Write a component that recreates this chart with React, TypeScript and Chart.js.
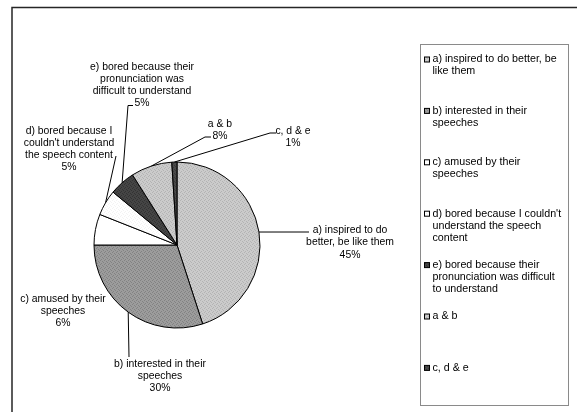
import React, { useEffect, useRef } from "react";
import { Chart, registerables } from "chart.js";

Chart.register(...registerables);

// Survey answers and their share of respondents (%)
const categories = [
  "a) inspired to do better, be like them",
  "b) interested in their speeches",
  "c) amused by their speeches",
  "d) bored because I couldn't understand the speech content",
  "e) bored because their pronunciation was difficult to understand",
  "a & b",
  "c, d & e",
];
const shares = [45, 30, 6, 5, 5, 8, 1];

// Legend entries as they wrap inside the legend box
const legendLines = [
  ["a) inspired to do better, be", "like them"],
  ["b) interested in their", "speeches"],
  ["c) amused by their", "speeches"],
  ["d) bored because I couldn't", "understand the speech", "content"],
  ["e) bored because their", "pronunciation was difficult", "to understand"],
  ["a & b"],
  ["c, d & e"],
];

// Fill tones per slice: [base, grain]
const sliceTones: [string, string][] = [
  ["#cbcbcb", "#b3b3b3"],
  ["#9c9c9c", "#828282"],
  ["#ffffff", "#ffffff"],
  ["#ffffff", "#f3f3f3"],
  ["#454545", "#333333"],
  ["#cbcbcb", "#b3b3b3"],
  ["#4a4a4a", "#383838"],
];

// Data label placement relative to the pie centre (px); end = leader tip relative to label centre
type LabelPlace = { dx: number; dy: number; wrap: number; end?: [number, number]; stub?: number };
const labelPlaces: LabelPlace[] = [
  { dx: 173, dy: -2.5, wrap: 96, end: [-41, -10.5] },
  { dx: -17, dy: 131, wrap: 96, end: [-31, -19] },
  { dx: -114, dy: 66, wrap: 96 },
  { dx: -108, dy: -96, wrap: 96, end: [47, 7] },
  { dx: -35, dy: -160, wrap: 108, end: [-9, 20.5], stub: 5 },
  { dx: 43, dy: -115, wrap: 96, end: [-9, 7], stub: 6 },
  { dx: 116, dy: -108, wrap: 96, end: [-17, -4], stub: 6 },
];

const FONT_FAMILY = '"Liberation Sans", Arial, sans-serif';
const LABEL_SIZE = 10.4;
const LABEL_LINE = 12.2;
const LEGEND_SIZE = 10.7;
const LEGEND_LINE = 12;

function wrapText(ctx: CanvasRenderingContext2D, text: string, width: number): string[] {
  const words = text.split(" ");
  const lines: string[] = [];
  let cur = "";
  for (const w of words) {
    const test = cur ? cur + " " + w : w;
    if (cur && ctx.measureText(test).width > width) {
      lines.push(cur);
      cur = w;
    } else {
      cur = test;
    }
  }
  if (cur) lines.push(cur);
  return lines;
}

function grainPattern(ctx: CanvasRenderingContext2D, base: string, grain: string): CanvasPattern | string {
  const tile = document.createElement("canvas");
  tile.width = 4;
  tile.height = 4;
  const t = tile.getContext("2d");
  if (!t) return base;
  t.fillStyle = base;
  t.fillRect(0, 0, 4, 4);
  t.fillStyle = grain;
  [[0, 0], [2, 1], [1, 3], [3, 2]].forEach(([px, py]) => t.fillRect(px, py, 1, 1));
  return ctx.createPattern(tile, "repeat") || base;
}

const annotate = {
  id: "annotate",
  afterDraw(chart: any) {
    const ctx: CanvasRenderingContext2D = chart.ctx;
    const meta = chart.getDatasetMeta(0);
    const fills = chart.data.datasets[0].backgroundColor as (CanvasPattern | string)[];
    ctx.save();

    // outer chart frame
    ctx.strokeStyle = "#262626";
    ctx.lineWidth = 1.5;
    ctx.beginPath();
    ctx.moveTo(12, chart.height + 2);
    ctx.lineTo(12, 7.5);
    ctx.lineTo(chart.width + 2, 7.5);
    ctx.stroke();

    // data labels with leader lines
    ctx.font = `${LABEL_SIZE}px ${FONT_FAMILY}`;
    ctx.textAlign = "center";
    ctx.textBaseline = "middle";
    ctx.lineWidth = 1;
    ctx.strokeStyle = "#000";
    ctx.fillStyle = "#000";
    meta.data.forEach((arc: any, i: number) => {
      const p = arc.getProps(["x", "y", "startAngle", "endAngle", "outerRadius"], true);
      const place = labelPlaces[i];
      const cx = p.x + place.dx;
      const cy = p.y + place.dy;
      const lines = [...wrapText(ctx, categories[i], place.wrap), `${shares[i]}%`];
      const n = lines.length;
      lines.forEach((ln, k) => {
        ctx.fillText(ln, cx, cy + (k - (n - 1) / 2) * LABEL_LINE);
      });
      if (place.end) {
        const mid = (p.startAngle + p.endAngle) / 2;
        const sx = p.x + Math.cos(mid) * p.outerRadius;
        const sy = p.y + Math.sin(mid) * p.outerRadius;
        const ex = cx + place.end[0];
        const ey = cy + place.end[1];
        ctx.beginPath();
        ctx.moveTo(sx, sy);
        if (place.stub) ctx.lineTo(ex - place.stub, ey);
        ctx.lineTo(ex, ey);
        ctx.stroke();
      }
    });

    // legend box
    const box = { x: 420.5, y: 44.5, w: 148, h: 361 };
    ctx.strokeStyle = "#8a8a8a";
    ctx.lineWidth = 1;
    ctx.strokeRect(box.x, box.y, box.w, box.h);
    ctx.font = `${LEGEND_SIZE}px ${FONT_FAMILY}`;
    ctx.textAlign = "left";
    ctx.textBaseline = "middle";
    const firstY = box.y + 15;
    const step = 51.4;
    legendLines.forEach((item, i) => {
      const y0 = firstY + i * step;
      ctx.fillStyle = fills[i];
      ctx.fillRect(box.x + 4, y0 - 2.5, 5, 5);
      ctx.strokeStyle = "#000";
      ctx.strokeRect(box.x + 4, y0 - 2.5, 5, 5);
      ctx.fillStyle = "#000";
      item.forEach((ln, k) => ctx.fillText(ln, box.x + 12, y0 + k * LEGEND_LINE));
    });

    ctx.restore();
  },
};

export default function App() {
  const canvasRef = useRef<HTMLCanvasElement | null>(null);

  useEffect(() => {
    document.body.style.margin = "0";
    const canvas = canvasRef.current;
    if (!canvas) return;
    const ctx = canvas.getContext("2d");
    if (!ctx) return;
    const fills = sliceTones.map(([b, g]) => grainPattern(ctx, b, g));

    const chart = new Chart(canvas, {
      type: "pie",
      data: {
        labels: categories,
        datasets: [
          {
            data: shares,
            backgroundColor: fills as any,
            borderColor: "#000",
            borderWidth: 1,
            radius: 83,
          } as any,
        ],
      },
      options: {
        responsive: false,
        animation: false,
        devicePixelRatio: 1,
        layout: { padding: { left: 94, right: 317, top: 162, bottom: 84 } },
        plugins: {
          legend: { display: false },
          tooltip: { enabled: false },
          title: { display: false },
        },
      },
      plugins: [annotate],
    });
    return () => chart.destroy();
  }, []);

  return (
    <div style={{ width: 577, height: 412, background: "#fff" }}>
      <canvas ref={canvasRef} width={577} height={412} style={{ display: "block" }} />
    </div>
  );
}
